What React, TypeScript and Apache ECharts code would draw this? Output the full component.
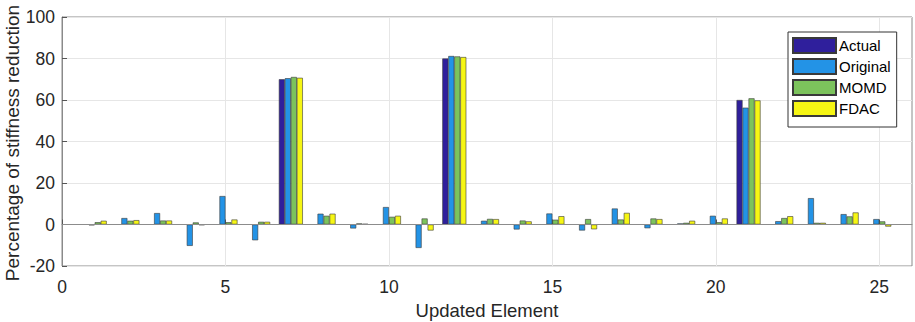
import React, { useEffect, useRef } from "react";
import * as echarts from "echarts";

const elements = [1, 2, 3, 4, 5, 6, 7, 8, 9, 10, 11, 12, 13, 14, 15, 16, 17, 18, 19, 20, 21, 22, 23, 24, 25];
const actual = [0, 0, 0, 0, 0, 0, 70, 0, 0, 0, 0, 80, 0, 0, 0, 0, 0, 0, 0, 0, 60, 0, 0, 0, 0];
const original = [-0.4, 3.1, 5.5, -10.3, 13.7, -7.6, 70.5, 5.2, -1.9, 8.4, -11.3, 81.2, 1.8, -2.4, 5.3, -2.9, 7.7, -1.8, 0.5, 4.2, 56.3, 1.6, 12.7, 5.0, 2.6];
const momd = [1.1, 1.8, 1.9, 1.0, 1.1, 1.3, 71.1, 4.2, 0.5, 3.7, 2.9, 81.0, 2.7, 1.9, 2.3, 2.6, 2.4, 2.9, 0.8, 1.1, 60.8, 3.1, 0.8, 3.9, 1.5];
const fdac = [1.8, 2.1, 1.9, -0.3, 2.4, 1.3, 70.7, 5.2, 0.3, 4.2, -2.9, 80.7, 2.6, 1.5, 4.0, -2.3, 5.6, 2.6, 1.8, 2.9, 59.8, 4.0, 0.8, 5.8, -1.0];
const seriesNames = ["Actual", "Original", "MOMD", "FDAC"];
const seriesColors = ["#2f1f9c", "#2393e6", "#7cc35c", "#f6f614"];
const xMax = 26;
const yTicks = { min: -20, max: 100, interval: 20 };
const yTitle = "Percentage of stiffness reduction";
const xTitle = "Updated Element";

export default function App() {
  const ref = useRef<HTMLDivElement>(null);
  useEffect(() => {
    if (!ref.current) return;
    const chart = echarts.init(ref.current, undefined, { renderer: "svg" });
    const categories: string[] = [];
    for (let i = 0; i <= xMax; i++) categories.push(String(i));
    const toData = (vals: number[]) => {
      const arr: (number | null)[] = categories.map(() => null);
      elements.forEach((e, i) => (arr[e] = vals[i]));
      return arr;
    };
    const allVals = [actual, original, momd, fdac];
    const font = "Liberation Sans, Arial, sans-serif";
    chart.setOption({
      animation: false,
      backgroundColor: "#ffffff",
      textStyle: { fontFamily: font },
      grid: {
        left: 62,
        top: 17,
        width: 850,
        height: 249,
        containLabel: false,
        outerBoundsMode: "none",
        show: true,
        borderColor: "#8a8a8a",
        borderWidth: 1,
        backgroundColor: "transparent",
      },
      graphic: [
        {
          type: "text",
          x: 12,
          y: 143,
          rotation: Math.PI / 2,
          style: {
            text: yTitle,
            fontSize: 19,
            fontFamily: font,
            fill: "#262626",
            align: "center",
            verticalAlign: "middle",
          },
        },
      ],
      legend: {
        orient: "vertical",
        left: 788,
        top: 32,
        padding: [5, 6, 10, 4],
        itemWidth: 43,
        itemHeight: 15,
        itemGap: 4,
        backgroundColor: "#ffffff",
        borderColor: "#333333",
        borderWidth: 1,
        borderRadius: 0,
        icon: "rect",
        textStyle: { fontSize: 15, color: "#000000", fontFamily: font, padding: [0, 0, 0, -2] },
        data: seriesNames,
      },
      xAxis: {
        type: "category",
        data: categories,
        boundaryGap: false,
        name: xTitle,
        nameLocation: "middle",
        nameGap: 35,
        nameTextStyle: { fontSize: 18.5, color: "#262626" },
        axisLine: { show: true, lineStyle: { color: "#8a8a8a" } },
        axisTick: { show: true, inside: true, length: 5, interval: 4, lineStyle: { color: "#555555" } },
        axisLabel: { interval: 4, fontSize: 17.5, color: "#262626", margin: 12 },
        splitLine: { show: true, interval: 4, lineStyle: { color: "#e6e6e6" } },
      },
      yAxis: {
        type: "value",
        min: yTicks.min,
        max: yTicks.max,
        interval: yTicks.interval,
        axisLine: { show: true, lineStyle: { color: "#8a8a8a" } },
        axisTick: { show: true, inside: true, length: 5, lineStyle: { color: "#555555" } },
        axisLabel: { fontSize: 17.5, color: "#262626", margin: 7 },
        splitLine: { show: true, lineStyle: { color: "#e6e6e6" } },
      },
      series: seriesNames.map((name, i) => ({
        name,
        type: "bar",
        data: toData(allVals[i]),
        barWidth: 6,
        barGap: "0%",
        itemStyle: { color: seriesColors[i], borderColor: "#3a3a3a", borderWidth: 0.6 },
        ...(i === 0
          ? {
              markLine: {
                silent: true,
                symbol: "none",
                label: { show: false },
                lineStyle: { color: "#8c8c8c", type: "solid", width: 1 },
                data: [{ yAxis: 0 }],
              },
            }
          : {}),
      })),
    });
    return () => chart.dispose();
  }, []);
  return (
    <div
      ref={ref}
      style={{ position: "fixed", left: 0, top: 0, width: 915, height: 322 }}
    />
  );
}
